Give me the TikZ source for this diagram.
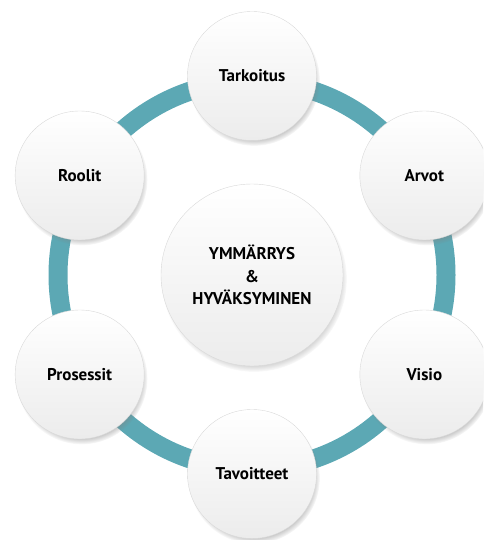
\documentclass[tikz,border=0pt]{standalone}
\usepackage{fontspec}
\setmainfont{PT Sans}
\usepackage{xcolor}
\usepackage{tikz}
\usetikzlibrary{shadows}

\definecolor{ringteal}{HTML}{5CA8B4}

\begin{document}
\begin{tikzpicture}[x=1pt, y=1pt,
  bubble/.style={circle, draw=gray!30, line width=0.4pt, top color=white, bottom color=gray!15,
    circular drop shadow={shadow xshift=2pt, shadow yshift=-4pt, shadow scale=1.02, opacity=0.65},
    inner sep=0pt, align=center, font=\fontsize{17}{22.5}\selectfont\bfseries},
  petal/.style={bubble, minimum size=129pt},
  hubnode/.style={bubble, minimum size=182pt},
  ring/.style={ringteal, line width=19pt}]
\clip (0,0) rectangle (483,-540);

% Nodes
\node[hubnode] (hub) at (252,-275) {YMMÄRRYS \\ \& \\ HYVÄKSYMINEN};

% Ring
\draw[ring] (hub.center) circle (194);

\node[petal] (tarkoitus) at ([shift={(90:199)}]hub.center) {Tarkoitus};
\node[petal] (arvot) at ([shift={(30:199)}]hub.center) {Arvot};
\node[petal] (visio) at ([shift={(-30:199)}]hub.center) {Visio};
\node[petal] (tavoitteet) at ([shift={(-90:199)}]hub.center) {Tavoitteet};
\node[petal] (prosessit) at ([shift={(210:199)}]hub.center) {Prosessit};
\node[petal] (roolit) at ([shift={(150:199)}]hub.center) {Roolit};

\end{tikzpicture}
\end{document}
